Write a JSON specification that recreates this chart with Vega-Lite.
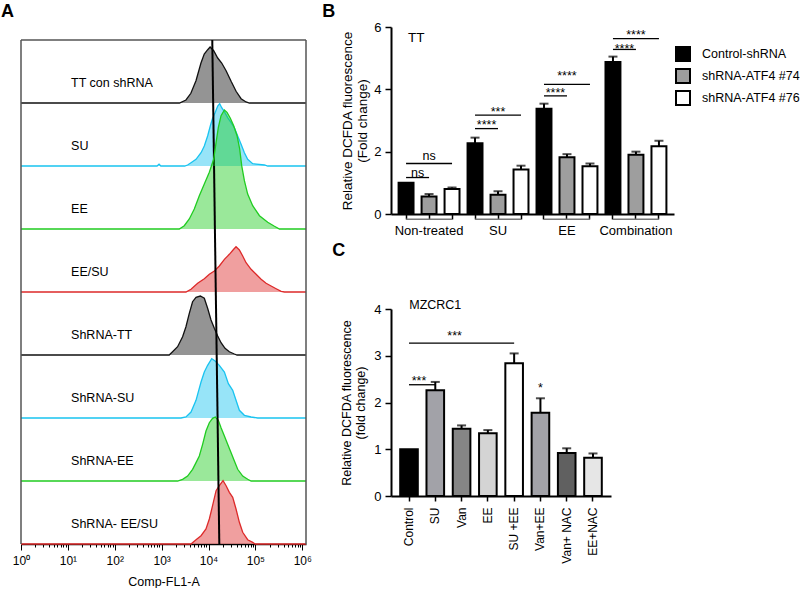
{
"$schema":"https://vega.github.io/schema/vega-lite/v6.json",
"padding":{"left":1,"top":2,"right":0,"bottom":0},
"config":{
 "font":"Liberation Sans",
 "view":{"stroke":null},
 "axis":{"domainColor":"#000","tickColor":"#000","labelColor":"#000","titleColor":"#000","grid":false,"titleFontWeight":"normal"},
 "title":{"fontSize":18,"fontWeight":"bold","anchor":"start","color":"#000"},
 "text":{"color":"#000"}
},
"bounds":"full",
"spacing":10,
"resolve":{"scale":{"x":"independent","y":"independent","color":"independent","fill":"independent"}},
"hconcat":[
{
 "vconcat":[
 {
  "title":{"text":"A","dx":-20,"offset":1},
  "width":285,"height":1,
  "data":{"values":[{"t":""}]},
  "mark":{"type":"text"},
  "encoding":{"text":{"field":"t"}}
 },
 {
 "data":{"values":[
  {"row":"TT con shRNA","k":"h","x":1,"c":0},{"row":"TT con shRNA","k":"h","x":2400,"c":0},{"row":"TT con shRNA","k":"h","x":3300,"c":4.8},{"row":"TT con shRNA","k":"h","x":4200,"c":15.4},{"row":"TT con shRNA","k":"h","x":5400,"c":35.4},{"row":"TT con shRNA","k":"h","x":6900,"c":63.5},{"row":"TT con shRNA","k":"h","x":8100,"c":77.8},{"row":"TT con shRNA","k":"h","x":9600,"c":84.6},{"row":"TT con shRNA","k":"h","x":10800,"c":88.9},{"row":"TT con shRNA","k":"h","x":12900,"c":83},{"row":"TT con shRNA","k":"h","x":15700,"c":71.4},{"row":"TT con shRNA","k":"h","x":19100,"c":63.5},{"row":"TT con shRNA","k":"h","x":23700,"c":51.3},{"row":"TT con shRNA","k":"h","x":30300,"c":34.4},{"row":"TT con shRNA","k":"h","x":38700,"c":18.6},{"row":"TT con shRNA","k":"h","x":49500,"c":6.8},{"row":"TT con shRNA","k":"h","x":63200,"c":1.6},{"row":"TT con shRNA","k":"h","x":74500,"c":0},{"row":"TT con shRNA","k":"h","x":1200000,"c":0},
  {"row":"SU","k":"h","x":1,"c":0},{"row":"SU","k":"h","x":800,"c":0},{"row":"SU","k":"h","x":880,"c":3},{"row":"SU","k":"h","x":960,"c":0},{"row":"SU","k":"h","x":3100,"c":0},{"row":"SU","k":"h","x":3580,"c":1.6},{"row":"SU","k":"h","x":4230,"c":5.2},{"row":"SU","k":"h","x":5410,"c":10.6},{"row":"SU","k":"h","x":6920,"c":21.1},{"row":"SU","k":"h","x":8130,"c":31.7},{"row":"SU","k":"h","x":9570,"c":47.6},{"row":"SU","k":"h","x":10900,"c":63.5},{"row":"SU","k":"h","x":12200,"c":75.7},{"row":"SU","k":"h","x":13800,"c":84.6},{"row":"SU","k":"h","x":15700,"c":95.2},{"row":"SU","k":"h","x":17300,"c":98.9},{"row":"SU","k":"h","x":19100,"c":92.5},{"row":"SU","k":"h","x":21800,"c":86.2},{"row":"SU","k":"h","x":25600,"c":76.7},{"row":"SU","k":"h","x":30300,"c":68.7},{"row":"SU","k":"h","x":35600,"c":60.8},{"row":"SU","k":"h","x":41900,"c":47.6},{"row":"SU","k":"h","x":49500,"c":34.4},{"row":"SU","k":"h","x":58200,"c":21.1},{"row":"SU","k":"h","x":68400,"c":10.6},{"row":"SU","k":"h","x":87500,"c":3.7},{"row":"SU","k":"h","x":155600,"c":1.6},{"row":"SU","k":"h","x":183000,"c":0},{"row":"SU","k":"h","x":1200000,"c":0},
  {"row":"EE","k":"h","x":1,"c":0},{"row":"EE","k":"h","x":2380,"c":0},{"row":"EE","k":"h","x":3040,"c":5.2},{"row":"EE","k":"h","x":3890,"c":15.9},{"row":"EE","k":"h","x":4970,"c":31.7},{"row":"EE","k":"h","x":6360,"c":52.9},{"row":"EE","k":"h","x":8130,"c":71.4},{"row":"EE","k":"h","x":10400,"c":90},{"row":"EE","k":"h","x":12900,"c":111},{"row":"EE","k":"h","x":14500,"c":137.6},{"row":"EE","k":"h","x":16200,"c":161.4},{"row":"EE","k":"h","x":18500,"c":179.8},{"row":"EE","k":"h","x":21800,"c":188.9},{"row":"EE","k":"h","x":24800,"c":185.2},{"row":"EE","k":"h","x":29200,"c":175.7},{"row":"EE","k":"h","x":34400,"c":163.9},{"row":"EE","k":"h","x":40600,"c":148.1},{"row":"EE","k":"h","x":46200,"c":127},{"row":"EE","k":"h","x":51000,"c":100.5},{"row":"EE","k":"h","x":58200,"c":76.7},{"row":"EE","k":"h","x":68400,"c":55.5},{"row":"EE","k":"h","x":87500,"c":37},{"row":"EE","k":"h","x":122000,"c":21.1},{"row":"EE","k":"h","x":183000,"c":10.6},{"row":"EE","k":"h","x":255000,"c":4.3},{"row":"EE","k":"h","x":326000,"c":0},{"row":"EE","k":"h","x":1200000,"c":0},
  {"row":"EE/SU","k":"h","x":1,"c":0},{"row":"EE/SU","k":"h","x":3300,"c":0},{"row":"EE/SU","k":"h","x":4230,"c":4.3},{"row":"EE/SU","k":"h","x":5860,"c":13.8},{"row":"EE/SU","k":"h","x":8130,"c":21.1},{"row":"EE/SU","k":"h","x":10400,"c":28.1},{"row":"EE/SU","k":"h","x":13300,"c":33.3},{"row":"EE/SU","k":"h","x":17000,"c":41.3},{"row":"EE/SU","k":"h","x":21800,"c":51.9},{"row":"EE/SU","k":"h","x":27800,"c":59.8},{"row":"EE/SU","k":"h","x":34400,"c":67.8},{"row":"EE/SU","k":"h","x":38600,"c":71.9},{"row":"EE/SU","k":"h","x":45500,"c":66.7},{"row":"EE/SU","k":"h","x":53600,"c":57.1},{"row":"EE/SU","k":"h","x":63200,"c":46.5},{"row":"EE/SU","k":"h","x":80900,"c":36},{"row":"EE/SU","k":"h","x":103500,"c":28.1},{"row":"EE/SU","k":"h","x":132400,"c":20.2},{"row":"EE/SU","k":"h","x":169000,"c":13.8},{"row":"EE/SU","k":"h","x":216000,"c":9.5},{"row":"EE/SU","k":"h","x":277000,"c":5.2},{"row":"EE/SU","k":"h","x":354000,"c":1.1},{"row":"EE/SU","k":"h","x":417000,"c":0},{"row":"EE/SU","k":"h","x":1200000,"c":0},
  {"row":"ShRNA-TT","k":"h","x":1,"c":0},{"row":"ShRNA-TT","k":"h","x":1450,"c":0},{"row":"ShRNA-TT","k":"h","x":1710,"c":5.2},{"row":"ShRNA-TT","k":"h","x":2190,"c":13.2},{"row":"ShRNA-TT","k":"h","x":2800,"c":29.1},{"row":"ShRNA-TT","k":"h","x":3300,"c":44.9},{"row":"ShRNA-TT","k":"h","x":3890,"c":66.2},{"row":"ShRNA-TT","k":"h","x":4570,"c":84.6},{"row":"ShRNA-TT","k":"h","x":5410,"c":91.6},{"row":"ShRNA-TT","k":"h","x":6680,"c":93.6},{"row":"ShRNA-TT","k":"h","x":8130,"c":90},{"row":"ShRNA-TT","k":"h","x":9570,"c":74.1},{"row":"ShRNA-TT","k":"h","x":11300,"c":55.5},{"row":"ShRNA-TT","k":"h","x":13300,"c":42.4},{"row":"ShRNA-TT","k":"h","x":15700,"c":30.2},{"row":"ShRNA-TT","k":"h","x":18500,"c":19.5},{"row":"ShRNA-TT","k":"h","x":22500,"c":10.6},{"row":"ShRNA-TT","k":"h","x":27800,"c":5.2},{"row":"ShRNA-TT","k":"h","x":35600,"c":1.6},{"row":"ShRNA-TT","k":"h","x":40600,"c":0},{"row":"ShRNA-TT","k":"h","x":1200000,"c":0},
  {"row":"ShRNA-SU","k":"h","x":1,"c":0},{"row":"ShRNA-SU","k":"h","x":2580,"c":0},{"row":"ShRNA-SU","k":"h","x":3300,"c":1.6},{"row":"ShRNA-SU","k":"h","x":4230,"c":9.5},{"row":"ShRNA-SU","k":"h","x":5410,"c":28.1},{"row":"ShRNA-SU","k":"h","x":6920,"c":57.1},{"row":"ShRNA-SU","k":"h","x":8130,"c":73},{"row":"ShRNA-SU","k":"h","x":9570,"c":83.6},{"row":"ShRNA-SU","k":"h","x":11700,"c":94.1},{"row":"ShRNA-SU","k":"h","x":13800,"c":90.5},{"row":"ShRNA-SU","k":"h","x":17000,"c":83.6},{"row":"ShRNA-SU","k":"h","x":21800,"c":73},{"row":"ShRNA-SU","k":"h","x":26500,"c":54.4},{"row":"ShRNA-SU","k":"h","x":32800,"c":44},{"row":"ShRNA-SU","k":"h","x":38600,"c":28.1},{"row":"ShRNA-SU","k":"h","x":45500,"c":12.2},{"row":"ShRNA-SU","k":"h","x":58200,"c":4.3},{"row":"ShRNA-SU","k":"h","x":80900,"c":1.6},{"row":"ShRNA-SU","k":"h","x":112000,"c":0},{"row":"ShRNA-SU","k":"h","x":1200000,"c":0},
  {"row":"ShRNA-EE","k":"h","x":1,"c":0},{"row":"ShRNA-EE","k":"h","x":2190,"c":0},{"row":"ShRNA-EE","k":"h","x":2800,"c":2.7},{"row":"ShRNA-EE","k":"h","x":3580,"c":7.9},{"row":"ShRNA-EE","k":"h","x":4570,"c":18.6},{"row":"ShRNA-EE","k":"h","x":5410,"c":29.1},{"row":"ShRNA-EE","k":"h","x":6360,"c":39.7},{"row":"ShRNA-EE","k":"h","x":7480,"c":58.2},{"row":"ShRNA-EE","k":"h","x":8830,"c":79.4},{"row":"ShRNA-EE","k":"h","x":10400,"c":92.5},{"row":"ShRNA-EE","k":"h","x":12200,"c":99.5},{"row":"ShRNA-EE","k":"h","x":14000,"c":101.6},{"row":"ShRNA-EE","k":"h","x":16200,"c":96.3},{"row":"ShRNA-EE","k":"h","x":18500,"c":84.6},{"row":"ShRNA-EE","k":"h","x":21800,"c":71.4},{"row":"ShRNA-EE","k":"h","x":25600,"c":58.2},{"row":"ShRNA-EE","k":"h","x":30300,"c":44.9},{"row":"ShRNA-EE","k":"h","x":35600,"c":31.7},{"row":"ShRNA-EE","k":"h","x":41900,"c":18.6},{"row":"ShRNA-EE","k":"h","x":53600,"c":7.9},{"row":"ShRNA-EE","k":"h","x":68400,"c":2.7},{"row":"ShRNA-EE","k":"h","x":80900,"c":0},{"row":"ShRNA-EE","k":"h","x":1200000,"c":0},
  {"row":"ShRNA- EE/SU","k":"h","x":1,"c":0},{"row":"ShRNA- EE/SU","k":"h","x":4230,"c":0},{"row":"ShRNA- EE/SU","k":"h","x":5410,"c":6.8},{"row":"ShRNA- EE/SU","k":"h","x":6920,"c":13.2},{"row":"ShRNA- EE/SU","k":"h","x":8830,"c":23.8},{"row":"ShRNA- EE/SU","k":"h","x":10400,"c":39.7},{"row":"ShRNA- EE/SU","k":"h","x":12200,"c":60.8},{"row":"ShRNA- EE/SU","k":"h","x":14500,"c":84.6},{"row":"ShRNA- EE/SU","k":"h","x":17000,"c":92.5},{"row":"ShRNA- EE/SU","k":"h","x":19100,"c":97.9},{"row":"ShRNA- EE/SU","k":"h","x":20400,"c":100.5},{"row":"ShRNA- EE/SU","k":"h","x":23700,"c":92.5},{"row":"ShRNA- EE/SU","k":"h","x":27800,"c":82},{"row":"ShRNA- EE/SU","k":"h","x":32800,"c":74.1},{"row":"ShRNA- EE/SU","k":"h","x":38600,"c":55.5},{"row":"ShRNA- EE/SU","k":"h","x":45500,"c":34.4},{"row":"ShRNA- EE/SU","k":"h","x":53600,"c":18.6},{"row":"ShRNA- EE/SU","k":"h","x":68400,"c":6.8},{"row":"ShRNA- EE/SU","k":"h","x":87500,"c":2.7},{"row":"ShRNA- EE/SU","k":"h","x":98400,"c":0},{"row":"ShRNA- EE/SU","k":"h","x":1200000,"c":0},
  {"row":"TT con shRNA","k":"m","xa":12020,"xb":12560},
  {"row":"SU","k":"m","xa":12560,"xb":13120},
  {"row":"EE","k":"m","xa":13120,"xb":13680},
  {"row":"EE/SU","k":"m","xa":13680,"xb":14290},
  {"row":"ShRNA-TT","k":"m","xa":14290,"xb":14930},
  {"row":"ShRNA-SU","k":"m","xa":14930,"xb":15600},
  {"row":"ShRNA-EE","k":"m","xa":15600,"xb":16260},
  {"row":"ShRNA- EE/SU","k":"m","xa":16260,"xb":16980}
 ]},
 "facet":{"row":{"field":"row","type":"nominal","header":null,"sort":["TT con shRNA","SU","EE","EE/SU","ShRNA-TT","ShRNA-SU","ShRNA-EE","ShRNA- EE/SU"]}},
 "spacing":0,
 "bounds":"flush",
 "spec":{
  "width":285,"height":63,
  "layer":[
   {"transform":[{"filter":"datum.k=='h'"}],
    "mark":{"type":"area","fillOpacity":0.45,"line":{"strokeWidth":1.3}},
    "encoding":{
     "x":{"field":"x","type":"quantitative","scale":{"type":"log","domain":[1,1200000],"nice":false},
      "axis":{"title":"Comp-FL1-A","titleFontSize":12.5,"titlePadding":9,"labelFontSize":12,"labelPadding":5,"labelFlush":false,"labelOverlap":false,"domainWidth":1.5,"tickWidth":1,
       "values":[1,2,3,4,5,6,7,8,9,10,20,30,40,50,60,70,80,90,100,200,300,400,500,600,700,800,900,1000,2000,3000,4000,5000,6000,7000,8000,9000,10000,20000,30000,40000,50000,60000,70000,80000,90000,100000,200000,300000,400000,500000,600000,700000,800000,900000,1000000],
       "labelExpr":"abs(log(datum.value)/LN10 - round(log(datum.value)/LN10)) < 0.01 ? '10' + ['⁰','¹','²','³','⁴','⁵','⁶'][round(log(datum.value)/LN10)] : ''",
       "tickSize":{"condition":{"test":"abs(log(datum.value)/LN10 - round(log(datum.value)/LN10)) < 0.01","value":6},"value":3}}},
     "y":{"field":"c","type":"quantitative","stack":null,"scale":{"domain":[0,100],"nice":false},"axis":null},
     "color":{"field":"row","type":"nominal","scale":{"domain":["TT con shRNA","SU","EE","EE/SU","ShRNA-TT","ShRNA-SU","ShRNA-EE","ShRNA- EE/SU"],"range":["#111111","#19c3f0","#20cc20","#dd2a2a","#111111","#19c3f0","#20cc20","#dd2a2a"]},"legend":null}
    }},
   {"transform":[{"filter":"datum.k=='m'"}],"mark":{"type":"rule","color":"#555","strokeWidth":1.5},"encoding":{"x":{"datum":1}}},
   {"transform":[{"filter":"datum.k=='m'"}],"mark":{"type":"rule","color":"#555","strokeWidth":1.5},"encoding":{"x":{"datum":1200000}}},
   {"transform":[{"filter":"datum.k=='m' && datum.row=='TT con shRNA'"}],"mark":{"type":"rule","color":"#555","strokeWidth":1.5},"encoding":{"y":{"datum":100}}},
   {"transform":[{"filter":"datum.k=='m'"}],"mark":{"type":"text","align":"left","baseline":"middle","fontSize":12.5},"encoding":{"x":{"datum":11.7},"y":{"datum":32},"text":{"field":"row"}}},
   {"transform":[{"filter":"datum.k=='m'"}],"mark":{"type":"rule","color":"#000","strokeWidth":2},"encoding":{"x":{"field":"xa","type":"quantitative"},"x2":{"field":"xb"},"y":{"datum":100},"y2":{"datum":0}}}
  ]
 }
 }
 ],
 "bounds":"flush",
 "spacing":12
},
{
 "vconcat":[
  {
   "title":{"text":"B","dx":-18,"offset":0},
   "width":283,"height":187,
   "layer":[
    {"data":{"values":[
      {"id":"NT-C","g":"Non-treated","s":"Control-shRNA","v":1.0,"hi":null},
      {"id":"NT-74","g":"Non-treated","s":"shRNA-ATF4 #74","v":0.56,"hi":0.64},
      {"id":"NT-76","g":"Non-treated","s":"shRNA-ATF4 #76","v":0.8,"hi":0.85},
      {"id":"SU-C","g":"SU","s":"Control-shRNA","v":2.27,"hi":2.45},
      {"id":"SU-74","g":"SU","s":"shRNA-ATF4 #74","v":0.62,"hi":0.73},
      {"id":"SU-76","g":"SU","s":"shRNA-ATF4 #76","v":1.43,"hi":1.55},
      {"id":"EE-C","g":"EE","s":"Control-shRNA","v":3.38,"hi":3.54},
      {"id":"EE-74","g":"EE","s":"shRNA-ATF4 #74","v":1.82,"hi":1.92},
      {"id":"EE-76","g":"EE","s":"shRNA-ATF4 #76","v":1.53,"hi":1.62},
      {"id":"CO-C","g":"Combination","s":"Control-shRNA","v":4.88,"hi":5.05},
      {"id":"CO-74","g":"Combination","s":"shRNA-ATF4 #74","v":1.9,"hi":2.0},
      {"id":"CO-76","g":"Combination","s":"shRNA-ATF4 #76","v":2.17,"hi":2.35}
     ]},
     "layer":[
      {"mark":{"type":"bar","stroke":"#000","strokeWidth":2},
       "encoding":{
        "x":{"field":"id","type":"nominal","sort":null,"scale":{"domain":["NT-C","NT-74","NT-76","SU-C","SU-74","SU-76","EE-C","EE-74","EE-76","CO-C","CO-74","CO-76"],"paddingInner":0.35,"paddingOuter":0.33},"axis":{"title":null,"labels":false,"ticks":true,"tickSize":5,"tickWidth":1.5,"domainWidth":2}},
        "y":{"field":"v","type":"quantitative","scale":{"domain":[0,6],"nice":false},"axis":{"values":[0,2,4,6],"title":["Relative DCFDA fluorescence","(Fold change)"],"titleFontSize":13.5,"labelFontSize":13,"tickSize":6,"tickWidth":1.5,"domainWidth":2,"labelPadding":4,"titlePadding":4}},
        "fill":{"field":"s","type":"nominal","sort":null,"scale":{"domain":["Control-shRNA","shRNA-ATF4 #74","shRNA-ATF4 #76"],"range":["#000000","#9e9e9e","#ffffff"]},
         "legend":{"title":null,"orient":"none","legendX":284,"legendY":19,"symbolType":"square","symbolSize":196,"symbolStrokeColor":"#000","symbolStrokeWidth":2,"labelFontSize":12.5,"rowPadding":0,"labelOffset":11,"padding":0}}
       }},
      {"transform":[{"filter":"datum.hi != null"}],"mark":{"type":"rule","strokeWidth":2,"color":"#000"},"encoding":{"x":{"field":"id","type":"nominal"},"y":{"field":"v","type":"quantitative"},"y2":{"field":"hi"}}},
      {"transform":[{"filter":"datum.hi != null"}],"mark":{"type":"tick","thickness":2,"size":9,"color":"#000"},"encoding":{"x":{"field":"id","type":"nominal"},"y":{"field":"hi","type":"quantitative"}}}
     ]},
    {"data":{"values":[
      {"a":"NT-C","b":"NT-74","m":"NT-C","y":1.17,"ly":1.33,"t":"ns","k":"s"},
      {"a":"NT-C","b":"NT-76","m":"NT-74","y":1.62,"ly":1.87,"t":"ns","k":"l"},
      {"a":"SU-C","b":"SU-74","m":"SU-C","y":2.74,"ly":2.85,"t":"****","k":"s"},
      {"a":"SU-C","b":"SU-76","m":"SU-74","y":3.17,"ly":3.28,"t":"***","k":"l"},
      {"a":"EE-C","b":"EE-74","m":"EE-C","y":3.79,"ly":3.87,"t":"****","k":"s"},
      {"a":"EE-C","b":"EE-76","m":"EE-74","y":4.16,"ly":4.42,"t":"****","k":"l"},
      {"a":"CO-C","b":"CO-74","m":"CO-C","y":5.28,"ly":5.31,"t":"****","k":"s"},
      {"a":"CO-C","b":"CO-76","m":"CO-74","y":5.63,"ly":5.74,"t":"****","k":"l"}
     ]},
     "layer":[
      {"mark":{"type":"rule","color":"#000","strokeWidth":1.3},"encoding":{"x":{"field":"a","type":"nominal"},"x2":{"field":"b"},"y":{"field":"y","type":"quantitative"}}},
      {"transform":[{"filter":"datum.k=='s'"}],"mark":{"type":"text","dx":11.5,"fontSize":12.5,"baseline":"middle"},"encoding":{"x":{"field":"m","type":"nominal"},"y":{"field":"ly","type":"quantitative"},"text":{"field":"t"}}},
      {"transform":[{"filter":"datum.k=='l'"}],"mark":{"type":"text","fontSize":12.5,"baseline":"middle"},"encoding":{"x":{"field":"m","type":"nominal"},"y":{"field":"ly","type":"quantitative"},"text":{"field":"t"}}}
     ]},
    {"data":{"values":[
      {"g":"Non-treated","a":"NT-C","m":"NT-74","b":"NT-76"},
      {"g":"SU","a":"SU-C","m":"SU-74","b":"SU-76"},
      {"g":"EE","a":"EE-C","m":"EE-74","b":"EE-76"},
      {"g":"Combination","a":"CO-C","m":"CO-74","b":"CO-76"}
     ]},
     "layer":[
      {"mark":{"type":"rule","color":"#777","strokeWidth":1.5},"encoding":{"x":{"field":"a","type":"nominal"},"x2":{"field":"b"},"y":{"datum":-0.165}}},
      {"mark":{"type":"text","fontSize":13,"baseline":"middle"},"encoding":{"x":{"field":"m","type":"nominal"},"y":{"datum":-0.53},"text":{"field":"g"}}}
     ]},
    {"data":{"values":[{"t":"TT"}]},
     "mark":{"type":"text","fontSize":13.5,"align":"left","baseline":"middle","dx":2},
     "encoding":{"x":{"datum":"NT-C"},"y":{"datum":5.66},"text":{"field":"t"}}}
   ]
  },
  {
   "title":{"text":"C","dx":-8,"offset":39},
   "width":220,"height":187,
   "layer":[
    {"data":{"values":[
      {"id":"Control","v":1.0,"hi":null},
      {"id":"SU","v":2.26,"hi":2.44},
      {"id":"Van","v":1.44,"hi":1.51},
      {"id":"EE","v":1.34,"hi":1.41},
      {"id":"SU +EE","v":2.84,"hi":3.05},
      {"id":"Van+EE","v":1.78,"hi":2.09},
      {"id":"Van+ NAC","v":0.92,"hi":1.02},
      {"id":"EE+NAC","v":0.82,"hi":0.91}
     ]},
     "layer":[
      {"mark":{"type":"bar","stroke":"#000","strokeWidth":2},
       "encoding":{
        "x":{"field":"id","type":"nominal","sort":null,"scale":{"domain":["Control","SU","Van","EE","SU +EE","Van+EE","Van+ NAC","EE+NAC"],"paddingInner":0.33,"paddingOuter":0.35},"axis":{"title":null,"labelAngle":-90,"labelAlign":"right","labelBaseline":"middle","labelFontSize":12,"tickSize":5,"tickWidth":1.5,"domainWidth":2,"labelPadding":6}},
        "y":{"field":"v","type":"quantitative","scale":{"domain":[0,4],"nice":false},"axis":{"values":[0,1,2,3,4],"title":["Relative DCFDA fluorescence","(fold change)"],"titleFontSize":12.5,"labelFontSize":13,"tickSize":6,"tickWidth":1.5,"domainWidth":2,"labelPadding":4,"titlePadding":6}},
        "fill":{"field":"id","type":"nominal","sort":null,"scale":{"domain":["Control","SU","Van","EE","SU +EE","Van+EE","Van+ NAC","EE+NAC"],"range":["#000000","#a2a2a8","#858585","#d4d4d4","#ffffff","#a2a2a8","#606060","#e6e6e6"]},"legend":null}
       }},
      {"transform":[{"filter":"datum.hi != null"}],"mark":{"type":"rule","strokeWidth":2,"color":"#000"},"encoding":{"x":{"field":"id","type":"nominal"},"y":{"field":"v","type":"quantitative"},"y2":{"field":"hi"}}},
      {"transform":[{"filter":"datum.hi != null"}],"mark":{"type":"tick","thickness":2,"size":9,"color":"#000"},"encoding":{"x":{"field":"id","type":"nominal"},"y":{"field":"hi","type":"quantitative"}}}
     ]},
    {"data":{"values":[
      {"a":"Control","b":"SU +EE","m":"Van","y":3.27,"ly":3.43,"t":"***","k":"l"},
      {"a":"Control","b":"SU","m":"Control","y":2.38,"ly":2.47,"t":"***","k":"s"},
      {"a":"Van+EE","b":"Van+EE","m":"Van+EE","y":null,"ly":2.3,"t":"*","k":"t"}
     ]},
     "layer":[
      {"transform":[{"filter":"datum.k != 't'"}],"mark":{"type":"rule","color":"#000","strokeWidth":1.3},"encoding":{"x":{"field":"a","type":"nominal"},"x2":{"field":"b"},"y":{"field":"y","type":"quantitative"}}},
      {"transform":[{"filter":"datum.k=='s'"}],"mark":{"type":"text","dx":10,"fontSize":12.5,"baseline":"middle"},"encoding":{"x":{"field":"m","type":"nominal"},"y":{"field":"ly","type":"quantitative"},"text":{"field":"t"}}},
      {"transform":[{"filter":"datum.k=='l'"}],"mark":{"type":"text","dx":-7,"fontSize":12.5,"baseline":"middle"},"encoding":{"x":{"field":"m","type":"nominal"},"y":{"field":"ly","type":"quantitative"},"text":{"field":"t"}}},
      {"transform":[{"filter":"datum.k=='t'"}],"mark":{"type":"text","fontSize":12.5,"baseline":"middle"},"encoding":{"x":{"field":"m","type":"nominal"},"y":{"field":"ly","type":"quantitative"},"text":{"field":"t"}}}
     ]},
    {"data":{"values":[{"t":"MZCRC1"}]},
     "mark":{"type":"text","fontSize":12.5,"baseline":"middle"},
     "encoding":{"x":{"datum":"SU"},"y":{"datum":4.09},"text":{"field":"t"}}}
   ]
  }
 ],
 "bounds":"flush",
 "spacing":95,
 "resolve":{"scale":{"x":"independent","y":"independent","fill":"independent"}}
}
]
}
